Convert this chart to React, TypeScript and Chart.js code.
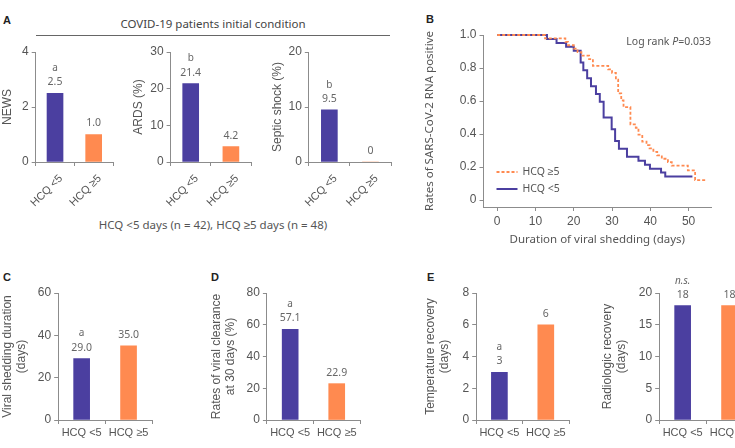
import { useEffect, useRef } from 'react';
import { Chart, registerables } from 'chart.js';

Chart.register(...registerables);

// ---------------- data ----------------
const groups = ['HCQ <5', 'HCQ ≥5'];

const newsValues = [2.5, 1.0];
const newsMarks = ['a', ''];
const ardsValues = [21.4, 4.2];
const ardsMarks = ['b', ''];
const septicValues = [9.5, 0];
const septicMarks = ['b', ''];
const sheddingValues = [29.0, 35.0];
const sheddingMarks = ['a', ''];
const clearanceValues = [57.1, 22.9];
const clearanceMarks = ['a', ''];
const tempValues = [3, 6];
const tempMarks = ['a', ''];
const radioValues = [18, 18];
const radioMarks = ['n.s.', ''];

// Kaplan-Meier (rates of SARS-CoV-2 RNA positive)
const kmLowTimes = [0, 13, 15.5, 18, 20, 21.8, 22.5, 23.5, 24.5, 25.8, 26.8, 27.8, 29.9, 30.8, 31.8, 33.9, 36.9, 38.6, 39.9, 42.8, 43.9, 51];
const kmLowSurv = [1, 0.976, 0.952, 0.929, 0.905, 0.833, 0.786, 0.738, 0.69, 0.643, 0.595, 0.5, 0.429, 0.357, 0.31, 0.262, 0.238, 0.214, 0.19, 0.167, 0.143, 0.143];
const kmHighTimes = [0, 12.5, 17.8, 18.5, 20, 21, 22, 24, 25, 29, 30, 31, 31.6, 32.4, 33, 34.8, 36.2, 36.9, 37.9, 39, 39.8, 40.8, 41.8, 43, 44.6, 45.6, 49.8, 51.7, 54.7];
const kmHighSurv = [1, 0.979, 0.958, 0.938, 0.917, 0.896, 0.875, 0.854, 0.813, 0.792, 0.771, 0.729, 0.646, 0.604, 0.563, 0.458, 0.438, 0.396, 0.354, 0.333, 0.313, 0.292, 0.271, 0.25, 0.229, 0.208, 0.179, 0.121, 0.121];
const kmXTicks = [0, 10, 20, 30, 40, 50];
const kmYTicks = [0, 0.2, 0.4, 0.6, 0.8, 1.0];
const kmLegend = ['HCQ ≥5', 'HCQ <5'];

// ---------------- style ----------------
const BLUE = '#4b3fa0';
const ORANGE = '#ff8a50';
const AXIS = '#8c8c8c';
const TEXT = '#555555';
const FONT = '"Liberation Sans", Arial, sans-serif';
const FONT2 = '"Noto Sans", sans-serif';
const TITLE_LH = 14.4;

type BarProps = {
  values: number[];
  marks: string[];
  decimals: number;
  yMax: number;
  yStep: number;
  title: string | string[];
  axisX: number;
  axisRight: number;
  yTop: number;
  yBottom: number;
  titleX: number;
  rotated: boolean;
  italicMarks?: boolean;
};

function fmt(v: number, d: number) {
  return v === 0 ? '0' : v.toFixed(d);
}

function BarPanel(p: BarProps) {
  const ref = useRef<HTMLCanvasElement | null>(null);
  const canvasLeft = p.titleX - TITLE_LH / 2;
  const yW = p.axisX - canvasLeft;
  const padTop = 36;
  const padRight = 10;
  const xH = p.rotated ? 56 : 30;
  const width = Math.round(p.axisRight - canvasLeft + padRight);
  const height = Math.round(p.yBottom - p.yTop + padTop + xH);
  const top = p.yTop - padTop;

  useEffect(() => {
    if (!ref.current) return;
    const labelPlugin = {
      id: 'valueLabels',
      afterDatasetsDraw(chart: any) {
        const ctx = chart.ctx;
        const meta = chart.getDatasetMeta(0);
        ctx.save();
        ctx.textAlign = 'center';
        ctx.textBaseline = 'middle';
        ctx.fillStyle = '#666';
        meta.data.forEach((bar: any, i: number) => {
          ctx.font = `10.5px ${FONT2}`;
          ctx.fillText(fmt(p.values[i], p.decimals), bar.x, bar.y - 11);
          if (p.marks[i]) {
            ctx.font = `${p.italicMarks ? 'italic ' : ''}10px ${FONT2}`;
            ctx.fillText(p.marks[i], bar.x, bar.y - 25);
          }
        });
        ctx.restore();
      },
    };
    const chart = new Chart(ref.current, {
      type: 'bar',
      data: {
        labels: groups,
        datasets: [
          {
            data: p.values,
            backgroundColor: [BLUE, ORANGE],
            barThickness: 16,
          },
        ],
      },
      options: {
        animation: false,
        responsive: false,
        layout: { padding: { top: padTop, right: padRight, left: 0, bottom: 0 } },
        plugins: { legend: { display: false }, tooltip: { enabled: false } },
        scales: {
          x: {
            grid: { drawOnChartArea: false, drawTicks: true, tickLength: 4, color: AXIS, offset: true },
            border: { color: AXIS, width: 1 },
            ticks: {
              color: TEXT,
              font: { family: FONT, size: 11 },
              minRotation: p.rotated ? 45 : 0,
              maxRotation: p.rotated ? 45 : 0,
              padding: p.rotated ? 6 : 2,
              labelOffset: p.rotated ? 6 : 0,
            },
            afterFit: (s: any) => {
              s.height = xH;
            },
          },
          y: {
            min: 0,
            max: p.yMax,
            ticks: { stepSize: p.yStep, color: TEXT, font: { family: FONT, size: 12 }, padding: 3 },
            grid: { drawOnChartArea: false, tickLength: 4, color: AXIS },
            border: { color: AXIS, width: 1 },
            title: {
              display: true,
              text: p.title,
              color: TEXT,
              font: { family: FONT, size: 12, lineHeight: 1.2 },
              padding: { top: 0, bottom: 0 },
            },
            afterFit: (s: any) => {
              s.width = yW;
            },
          },
        },
      } as any,
      plugins: [labelPlugin],
    });
    return () => chart.destroy();
  }, []);

  return (
    <canvas
      ref={ref}
      width={width}
      height={height}
      style={{ position: 'absolute', left: canvasLeft, top, width, height }}
    />
  );
}

function KmPanel() {
  const ref = useRef<HTMLCanvasElement | null>(null);
  const titleX = 430;
  const axisX = 483.3;
  const axisRight = 710.7;
  const yTop = 35;
  const xAxisY = 207;
  const canvasLeft = titleX - TITLE_LH / 2;
  const yW = axisX - canvasLeft;
  const padTop = 12;
  const padRight = 10;
  const xH = 40;
  const width = Math.round(axisRight - canvasLeft + padRight);
  const height = Math.round(xAxisY - yTop + padTop + xH);
  const top = yTop - padTop;

  useEffect(() => {
    if (!ref.current) return;
    const overlay = {
      id: 'kmOverlay',
      afterDatasetsDraw(chart: any) {
        const ctx = chart.ctx;
        const a = chart.chartArea;
        ctx.save();
        // legend
        chart.data.datasets.forEach((ds: any, i: number) => {
          const y = a.bottom - 35 + i * 17;
          ctx.beginPath();
          ctx.strokeStyle = ds.borderColor;
          ctx.lineWidth = ds.borderWidth;
          ctx.setLineDash(ds.borderDash || []);
          ctx.moveTo(a.left + 13, y);
          ctx.lineTo(a.left + 34, y);
          ctx.stroke();
          ctx.setLineDash([]);
          ctx.fillStyle = TEXT;
          ctx.font = `10.5px ${FONT2}`;
          ctx.textAlign = 'left';
          ctx.textBaseline = 'middle';
          ctx.fillText(kmLegend[i], a.left + 39, y);
        });
        // log rank
        const y = a.top + 7;
        ctx.textBaseline = 'middle';
        ctx.textAlign = 'left';
        const normal = `10.5px ${FONT2}`;
        const ital = `italic 10.5px ${FONT2}`;
        const parts: [string, string][] = [
          ['Log rank ', normal],
          ['P', ital],
          ['=0.033', normal],
        ];
        let total = 0;
        parts.forEach(([t, f]) => {
          ctx.font = f;
          total += ctx.measureText(t).width;
        });
        let x = a.right - total;
        parts.forEach(([t, f]) => {
          ctx.font = f;
          ctx.fillText(t, x, y);
          x += ctx.measureText(t).width;
        });
        ctx.restore();
      },
    };
    const chart = new Chart(ref.current, {
      type: 'line',
      data: {
        datasets: [
          {
            label: kmLegend[0],
            data: kmHighTimes.map((t, i) => ({ x: t, y: kmHighSurv[i] })),
            borderColor: ORANGE,
            borderWidth: 1.8,
            borderDash: [3, 2],
            stepped: true,
            pointRadius: 0,
            fill: false,
            clip: false,
          },
          {
            label: kmLegend[1],
            data: kmLowTimes.map((t, i) => ({ x: t, y: kmLowSurv[i] })),
            borderColor: BLUE,
            borderWidth: 2,
            stepped: true,
            pointRadius: 0,
            fill: false,
            clip: false,
          },
        ],
      },
      options: {
        animation: false,
        responsive: false,
        layout: { padding: { top: padTop, right: padRight, left: 0, bottom: 0 } },
        plugins: { legend: { display: false }, tooltip: { enabled: false } },
        scales: {
          x: {
            type: 'linear',
            min: -3.58,
            max: 55.85,
            afterBuildTicks: (s: any) => {
              s.ticks = kmXTicks.map((v) => ({ value: v }));
            },
            grid: { drawOnChartArea: false, tickLength: 4, color: AXIS },
            border: { color: AXIS, width: 1 },
            ticks: { color: TEXT, font: { family: FONT, size: 12 }, padding: 3 },
            title: {
              display: true,
              text: 'Duration of viral shedding (days)',
              color: TEXT,
              font: { family: FONT2, size: 11.5, lineHeight: 1.2 },
              padding: { top: 0, bottom: 0 },
            },
            afterFit: (s: any) => {
              s.height = xH;
            },
          },
          y: {
            min: -0.0424,
            max: 1.0,
            afterBuildTicks: (s: any) => {
              s.ticks = kmYTicks.map((v) => ({ value: v }));
            },
            grid: { drawOnChartArea: false, tickLength: 4, color: AXIS },
            border: { color: AXIS, width: 1 },
            ticks: {
              color: TEXT,
              font: { family: FONT, size: 12 },
              padding: 3,
              callback: (v: any) => (v === 0 ? '0' : Number(v).toFixed(1)),
            },
            title: {
              display: true,
              text: 'Rates of SARS-CoV-2 RNA positive',
              color: TEXT,
              font: { family: FONT2, size: 11.5, lineHeight: 1.2 },
              padding: { top: 0, bottom: 0 },
            },
            afterFit: (s: any) => {
              s.width = yW;
            },
          },
        },
      } as any,
      plugins: [overlay],
    });
    return () => chart.destroy();
  }, []);

  return (
    <canvas
      ref={ref}
      width={width}
      height={height}
      style={{ position: 'absolute', left: canvasLeft, top, width, height }}
    />
  );
}

const letterStyle = (left: number, top: number): any => ({
  position: 'absolute',
  left,
  top,
  font: `bold 11px ${FONT}`,
  color: '#222',
  lineHeight: '12px',
});

export default function App() {
  return (
    <div
      style={{
        position: 'absolute',
        left: 0,
        top: 0,
        width: 735,
        height: 448,
        overflow: 'hidden',
        background: '#fff',
      }}
    >
      <div style={letterStyle(3, 14)}>A</div>
      <div style={letterStyle(426, 13)}>B</div>
      <div style={letterStyle(3, 271)}>C</div>
      <div style={letterStyle(211, 271)}>D</div>
      <div style={letterStyle(427, 271)}>E</div>

      <div
        style={{
          position: 'absolute',
          left: 36,
          width: 354,
          top: 16,
          textAlign: 'center',
          font: `11.5px ${FONT2}`,
          lineHeight: '16px',
          color: '#444',
        }}
      >
        COVID-19 patients initial condition
      </div>
      <div style={{ position: 'absolute', left: 36, width: 354, top: 35, height: 0, borderTop: '1px solid #666' }} />
      <div
        style={{
          position: 'absolute',
          left: 36,
          width: 354,
          top: 217,
          textAlign: 'center',
          font: `11.5px ${FONT2}`,
          lineHeight: '16px',
          color: '#555',
        }}
      >
        HCQ &lt;5 days (n = 42), HCQ ≥5 days (n = 48)
      </div>

      <BarPanel values={newsValues} marks={newsMarks} decimals={1} yMax={4} yStep={2} title="NEWS"
        axisX={36} axisRight={113.3} yTop={52.3} yBottom={162.7} titleX={7.5} rotated />
      <BarPanel values={ardsValues} marks={ardsMarks} decimals={1} yMax={30} yStep={10} title="ARDS (%)"
        axisX={170.7} axisRight={251} yTop={52.3} yBottom={162.7} titleX={138.3} rotated />
      <BarPanel values={septicValues} marks={septicMarks} decimals={1} yMax={20} yStep={10} title="Septic shock (%)"
        axisX={308.3} axisRight={390} yTop={52.3} yBottom={162.7} titleX={276.7} rotated />

      <KmPanel />

      <BarPanel values={sheddingValues} marks={sheddingMarks} decimals={1} yMax={60} yStep={20}
        title={['Viral shedding duration', '(days)']}
        axisX={58.3} axisRight={151.7} yTop={292.7} yBottom={420} titleX={7.3} rotated={false} />
      <BarPanel values={clearanceValues} marks={clearanceMarks} decimals={1} yMax={80} yStep={20}
        title={['Rates of viral clearance', 'at 30 days (%)']}
        axisX={266.7} axisRight={360} yTop={292.7} yBottom={420} titleX={216} rotated={false} />
      <BarPanel values={tempValues} marks={tempMarks} decimals={0} yMax={8} yStep={2}
        title={['Temperature recovery', '(days)']}
        axisX={476} axisRight={569.3} yTop={292.7} yBottom={420} titleX={430} rotated={false} />
      <BarPanel values={radioValues} marks={radioMarks} decimals={0} yMax={20} yStep={5}
        title={['Radiologic recovery', '(days)']}
        axisX={658.7} axisRight={752} yTop={292.7} yBottom={420} titleX={606.7} rotated={false} italicMarks />
    </div>
  );
}
